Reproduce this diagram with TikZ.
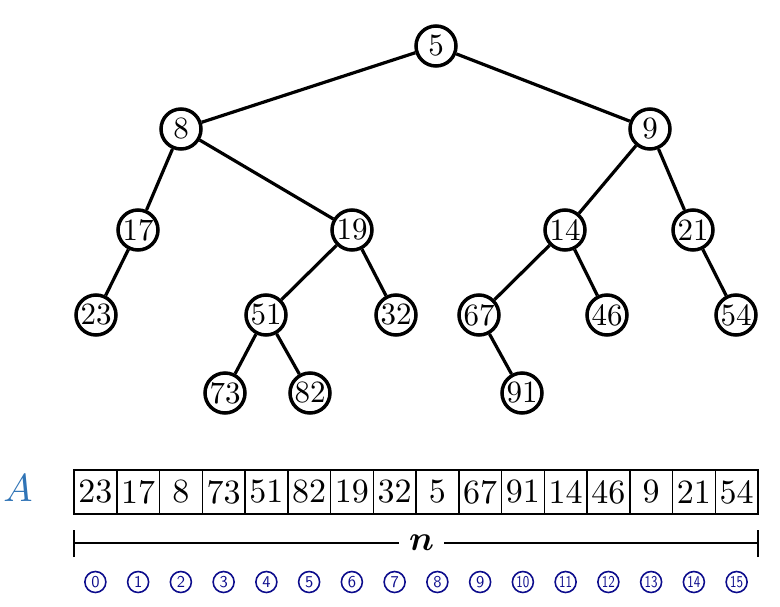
\documentclass[tikz,border=0pt]{standalone}
\usepackage{amsmath,amssymb,bm}
\definecolor{idxblue}{RGB}{12,12,140}
\definecolor{lblblue}{RGB}{48,116,182}
\newcommand{\tscale}[1]{\scalebox{3.1}{#1}}
\newcommand{\ascale}[1]{\scalebox{3.4}{#1}}
\newcommand{\iscale}[1]{\ifnum#1>9 \scalebox{1.3}[1.65]{\sffamily #1}\else\scalebox{1.65}{\sffamily #1}\fi}
\begin{document}
\begin{tikzpicture}[x=1pt,y=-1pt,
  tnode/.style={circle,draw,fill=white,line width=3.5pt,minimum size=40pt,inner sep=0pt},
  tedge/.style={line width=3.2pt},
  cell/.style={rectangle,draw,line width=1.5pt,minimum width=42.75pt,minimum height=44pt,inner sep=0pt},
  idx/.style={circle,draw=idxblue,text=idxblue,line width=1.6pt,minimum size=21pt,inner sep=0pt},
  bracket/.style={line width=1.8pt}]
\useasboundingbox (0,0) rectangle (780,606);
% tree nodes
\node[tnode] (n5)  at (436,46) {\tscale{5}};
\node[tnode] (n8)  at (181,129) {\tscale{8}};
\node[tnode] (n9)  at (650,129) {\tscale{9}};
\node[tnode] (n17) at (138,230) {\tscale{17}};
\node[tnode] (n19) at (352,230) {\tscale{19}};
\node[tnode] (n14) at (565,230) {\tscale{14}};
\node[tnode] (n21) at (693,230) {\tscale{21}};
\node[tnode] (n23) at (96,315) {\tscale{23}};
\node[tnode] (n51) at (266,315) {\tscale{51}};
\node[tnode] (n32) at (396,315) {\tscale{32}};
\node[tnode] (n67) at (479,315) {\tscale{67}};
\node[tnode] (n46) at (607,315) {\tscale{46}};
\node[tnode] (n54) at (736,315) {\tscale{54}};
\node[tnode] (n73) at (225,393) {\tscale{73}};
\node[tnode] (n82) at (310,393) {\tscale{82}};
\node[tnode] (n91) at (522,393) {\tscale{91}};
% edges
\foreach \a/\b in {n5/n8,n5/n9,n8/n17,n8/n19,n9/n14,n9/n21,n17/n23,n19/n51,n19/n32,n14/n67,n14/n46,n21/n54,n51/n73,n51/n82,n67/n91}
  \draw[tedge] (\a) -- (\b);
% array
\foreach \v [count=\i from 0] in {23,17,8,73,51,82,19,32,5,67,91,14,46,9,21,54}{
  \node[cell] (c\i) at ({74+42.75*(\i+0.5)},492) {\ascale{\v}};
  \node[idx] (i\i) at ({74+42.75*(\i+0.5)},582) {\iscale{\i}};
}
\node[text=lblblue] (A) at (18,488) {\scalebox{3.9}{$A$}};
% bracket
\coordinate (L) at (74,543);
\coordinate (R) at (758,543);
\node[inner xsep=10pt,inner ysep=0pt] (n) at (421.5,543) {\scalebox{3.5}{$\bm{n}$}};
\draw[bracket] (L) -- (n.west);
\draw[bracket] (n.east) -- (R);
\draw[bracket] ([yshift=-14pt]L) -- ([yshift=13pt]L);
\draw[bracket] ([yshift=-14pt]R) -- ([yshift=13pt]R);
\end{tikzpicture}
\end{document}
